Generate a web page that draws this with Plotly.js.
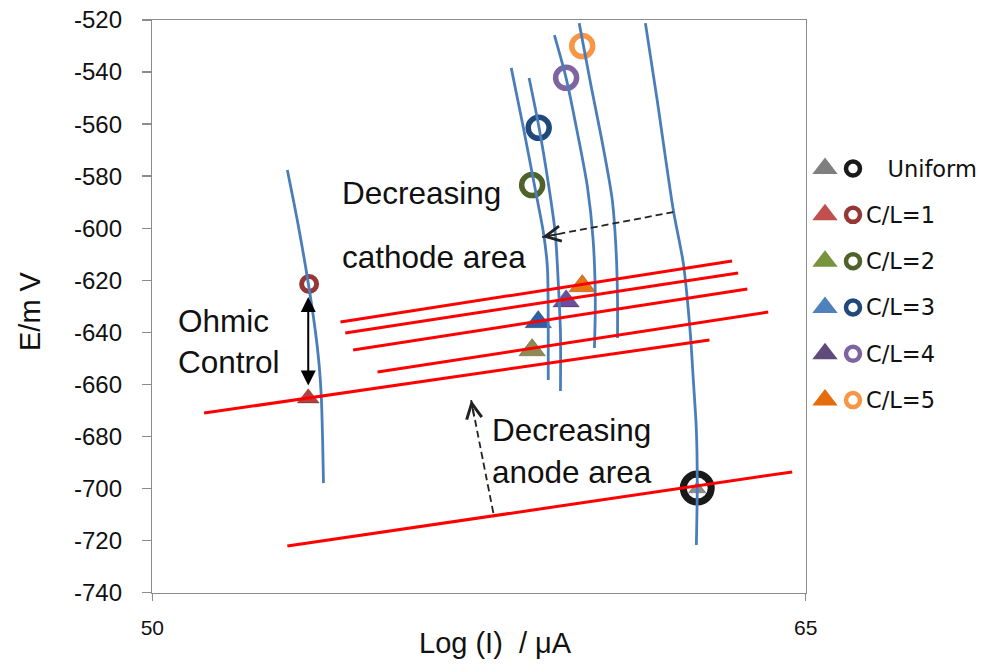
<!DOCTYPE html>
<html>
<head>
<meta charset="utf-8">
<script src="https://cdn.plot.ly/plotly-3.0.1.min.js"></script>
<style>html,body{margin:0;padding:0;background:#fff;}#chart{width:989px;height:665px;}</style>
</head>
<body>
<div id="chart"></div>
<script>
// ---------- data ----------
const xRange = [50, 65];
const xTickVals = [50, 65];
const yRange = [-740, -520];
const yTickVals = [-740, -720, -700, -680, -660, -640, -620, -600, -580, -560, -540, -520];
const yTickText = ['-740', '-720', '-700', '-680', '-660', '-640', '-620', '-600', '-580', '-560', '-540', '-520'];
const xTitle = 'Log (I) \u00a0/ μA';
const yTitle = 'E/m V';

// cathodic polarisation curves (blue)
const curveA_x = [53.10, 53.35, 53.58, 53.74, 53.83, 53.88, 53.91, 53.93];
const curveA_y = [-577.6, -598.8, -621.0, -639.1, -652.5, -664.8, -681.4, -697.9];
const curveB_x = [58.24, 58.52, 58.75, 58.98, 59.07, 59.09, 59.09];
const curveB_y = [-538.4, -561.5, -581.5, -601.8, -614.9, -640.2, -658.3];
const curveC_x = [58.65, 58.88, 59.09, 59.25, 59.32, 59.37, 59.37];
const curveC_y = [-542.3, -561.5, -582.6, -601.8, -621.0, -640.2, -662.5];
const curveD_x = [59.23, 59.50, 59.76, 59.99, 60.12, 60.17, 60.15];
const curveD_y = [-525.8, -542.3, -563.4, -584.2, -604.5, -627.6, -646.0];
const curveE_x = [59.80, 60.06, 60.35, 60.56, 60.65, 60.68, 60.68];
const curveE_y = [-521.2, -544.2, -568.8, -589.2, -609.5, -627.6, -642.2];
const curveF_x = [61.32, 61.59, 61.96, 62.19, 62.35, 62.42, 62.49, 62.51, 62.49];
const curveF_y = [-521.2, -550.7, -593.0, -613.4, -640.2, -658.3, -677.5, -698.6, -721.7];

// anodic Tafel lines (red): start / end
const anodic1_x = [51.19, 62.79];  const anodic1_y = [-671.0, -642.9];
const anodic2_x = [53.10, 64.69];  const anodic2_y = [-722.1, -693.6];
const anodic3_x = [54.32, 63.31];  const anodic3_y = [-636.0, -612.6];
const anodic4_x = [54.43, 63.45];  const anodic4_y = [-640.2, -617.2];
const anodic5_x = [54.61, 63.66];  const anodic5_y = [-646.8, -623.3];
const anodic6_x = [55.17, 64.14];  const anodic6_y = [-655.2, -632.2];

// series (legend categories) and their points
const seriesNames = ['Uniform', 'C/L=1', 'C/L=2', 'C/L=3', 'C/L=4', 'C/L=5'];
const triangleX = [62.51, 53.58, 58.72, 58.86, 59.50, 59.87];
const triangleY = [-700.2, -665.3, -646.8, -636.0, -628.0, -622.2];
const circleX   = [62.51, 53.60, 58.72, 58.87, 59.50, 59.87];
const circleY   = [-699.8, -621.4, -583.4, -561.4, -542.2, -530.0];

// arrows
const ohmicArrowX = [53.58, 53.58];            // top tip, bottom tip
const ohmicArrowY = [-625.8, -660.4];
const cathodeArrowX = [61.96, 58.95];          // tail -> head
const cathodeArrowY = [-593.8, -603.4];
const anodeArrowX = [57.83, 57.53, 57.32];     // tail -> head
const anodeArrowY = [-709.4, -684.0, -666.0];

// labels
const notes = [
  {text: 'Decreasing',   x: 54.32, y: -586.3},
  {text: 'cathode area', x: 54.32, y: -611.1},
  {text: 'Ohmic',        x: 50.55, y: -635.8},
  {text: 'Control',      x: 50.55, y: -651.4},
  {text: 'Decreasing',   x: 57.76, y: -677.5},
  {text: 'anode area',   x: 57.76, y: -693.8}
];

// ---------- styles ----------
const triPlotColors  = ['#8c8c8c', '#b5403d', '#8f8a52', '#2d5fa6', '#6b4f9c', '#ea7412'];
const triLegColors   = ['#7f7f7f', '#c0504d', '#77933c', '#4f81bd', '#604a7b', '#e46c0a'];
const circleColors   = ['#1a1a1a', '#953735', '#4f6228', '#1f497d', '#8064a2', '#f79646'];
const triSizes   = [15, 19, 23, 23, 23, 23];
const circSizes  = [28, 15, 21, 21, 21, 21];
const circWidths = [7, 5, 5.5, 5.5, 5.5, 5.5];

const BLUE = '#4a7ebb', RED = '#ff0000';
const FONT = 'Liberation Sans, Arial, sans-serif';

const traces = [];
// markers first (lines are drawn over them in the reference)
traces.push({x: triangleX, y: triangleY, mode: 'markers', type: 'scatter', hoverinfo: 'skip',
  marker: {symbol: 'triangle-up', size: triSizes, color: triPlotColors, opacity: 1,
           line: {color: 'rgba(0,0,0,0.25)', width: 1}}});
traces.push({x: circleX, y: circleY, mode: 'markers', type: 'scatter', hoverinfo: 'skip',
  marker: {symbol: 'circle-open', size: circSizes, color: circleColors, opacity: 1,
           line: {width: circWidths, color: circleColors}}});

[[curveA_x, curveA_y], [curveB_x, curveB_y], [curveC_x, curveC_y],
 [curveD_x, curveD_y], [curveE_x, curveE_y], [curveF_x, curveF_y]].forEach(c => {
  traces.push({x: c[0], y: c[1], mode: 'lines', type: 'scatter', hoverinfo: 'skip',
    line: {color: BLUE, width: 2.8, shape: 'spline', smoothing: 0.8}});
});
[[anodic1_x, anodic1_y], [anodic2_x, anodic2_y], [anodic3_x, anodic3_y],
 [anodic4_x, anodic4_y], [anodic5_x, anodic5_y], [anodic6_x, anodic6_y]].forEach(c => {
  traces.push({x: c[0], y: c[1], mode: 'lines', type: 'scatter', hoverinfo: 'skip',
    line: {color: RED, width: 3}});
});
// dashed arrows bodies
traces.push({x: cathodeArrowX, y: cathodeArrowY, mode: 'lines', type: 'scatter', hoverinfo: 'skip',
  line: {color: '#222', width: 1.8, dash: '7px,4px'}});
traces.push({x: anodeArrowX, y: anodeArrowY, mode: 'lines', type: 'scatter', hoverinfo: 'skip',
  line: {color: '#222', width: 1.8, dash: '7px,4px', shape: 'spline'}});

// custom legend on its own axes
const legIdx = seriesNames.map((_, i) => i);
traces.push({x: seriesNames.map(() => 17), y: legIdx, xaxis: 'x2', yaxis: 'y2', mode: 'markers',
  type: 'scatter', hoverinfo: 'skip',
  marker: {symbol: 'triangle-up', size: 22, color: triLegColors, opacity: 1}});
traces.push({x: seriesNames.map(() => 45), y: legIdx, xaxis: 'x2', yaxis: 'y2', mode: 'markers',
  type: 'scatter', hoverinfo: 'skip',
  marker: {symbol: 'circle-open', size: 14, color: circleColors, opacity: 1,
           line: {width: 4.5, color: circleColors}}});

const annotations = [];
notes.forEach(n => annotations.push({xref: 'x', yref: 'y', x: n.x, y: n.y, text: n.text,
  showarrow: false, xanchor: 'left', yanchor: 'middle', font: {family: FONT, size: 31.5, color: '#111'}}));
seriesNames.forEach((s, i) => annotations.push({xref: 'x2', yref: 'y2', x: 56, y: i,
  text: (i === 0 ? '\u00a0\u00a0\u00a0' : '') + s, showarrow: false, xanchor: 'left', yanchor: 'middle',
  font: {family: 'DejaVu Sans, sans-serif', size: 22.5, color: '#111'}}));
// ohmic double arrow
annotations.push({xref: 'x', yref: 'y', axref: 'x', ayref: 'y',
  x: ohmicArrowX[1], y: ohmicArrowY[1], ax: ohmicArrowX[0], ay: ohmicArrowY[0], text: '',
  showarrow: true, arrowside: 'end+start', arrowhead: 2, startarrowhead: 2,
  arrowsize: 1.5, startarrowsize: 1.5, arrowwidth: 2, arrowcolor: '#000'});
// open arrowheads of dashed arrows
annotations.push({xref: 'x', yref: 'y', x: cathodeArrowX[1], y: cathodeArrowY[1],
  ax: 18, ay: -3.4, text: '', showarrow: true, arrowhead: 5, arrowsize: 2, arrowwidth: 1.5, arrowcolor: '#222'});
annotations.push({xref: 'x', yref: 'y', x: anodeArrowX[2], y: anodeArrowY[2],
  ax: 3, ay: 18, text: '', showarrow: true, arrowhead: 5, arrowsize: 2, arrowwidth: 1.5, arrowcolor: '#222'});

const W = 989, H = 665;
// axis titles (placed as paper annotations so they sit exactly where the reference has them)
annotations.push({xref: 'paper', yref: 'paper', x: 495.5 / W, y: (H - 643) / H, text: xTitle,
  showarrow: false, xanchor: 'center', yanchor: 'middle', font: {family: FONT, size: 29, color: '#111'}});
annotations.push({xref: 'paper', yref: 'paper', x: 29.5 / W, y: (H - 311.5) / H, text: yTitle, textangle: -90,
  showarrow: false, xanchor: 'center', yanchor: 'middle', font: {family: FONT, size: 29, color: '#111'}});

const layout = {
  width: W, height: H, margin: {l: 0, r: 0, t: 0, b: 0},
  paper_bgcolor: '#fff', plot_bgcolor: '#fff', showlegend: false,
  font: {family: FONT, color: '#111'},
  xaxis: {domain: [152.3 / W, 805.7 / W], range: xRange, tickvals: xTickVals, ticktext: xTickVals.map(String),
    showgrid: false, zeroline: false, showline: true, mirror: true, linecolor: '#8c8c8c', linewidth: 1.5,
    ticks: 'outside', ticklen: 7, tickcolor: '#8c8c8c', tickwidth: 1.5, ticklabelstandoff: 9,
    tickfont: {family: FONT, size: 21, color: '#111'}},
  yaxis: {domain: [(H - 592.7) / H, (H - 20) / H], range: yRange, tickvals: yTickVals, ticktext: yTickText,
    showgrid: false, zeroline: false, showline: true, mirror: true, linecolor: '#8c8c8c', linewidth: 1.5,
    ticks: 'outside', ticklen: 9, tickcolor: '#8c8c8c', tickwidth: 1.5, ticklabelstandoff: 15,
    tickfont: {family: FONT, size: 24, color: '#111'}},
  xaxis2: {domain: [808 / W, 1], range: [0, 181], visible: false, anchor: 'y2', fixedrange: true},
  yaxis2: {domain: [0, 1], range: [10.72, -3.64], visible: false, anchor: 'x2', fixedrange: true},
  annotations: annotations
};

Plotly.newPlot('chart', traces, layout, {displayModeBar: false, staticPlot: true});
</script>
</body>
</html>
